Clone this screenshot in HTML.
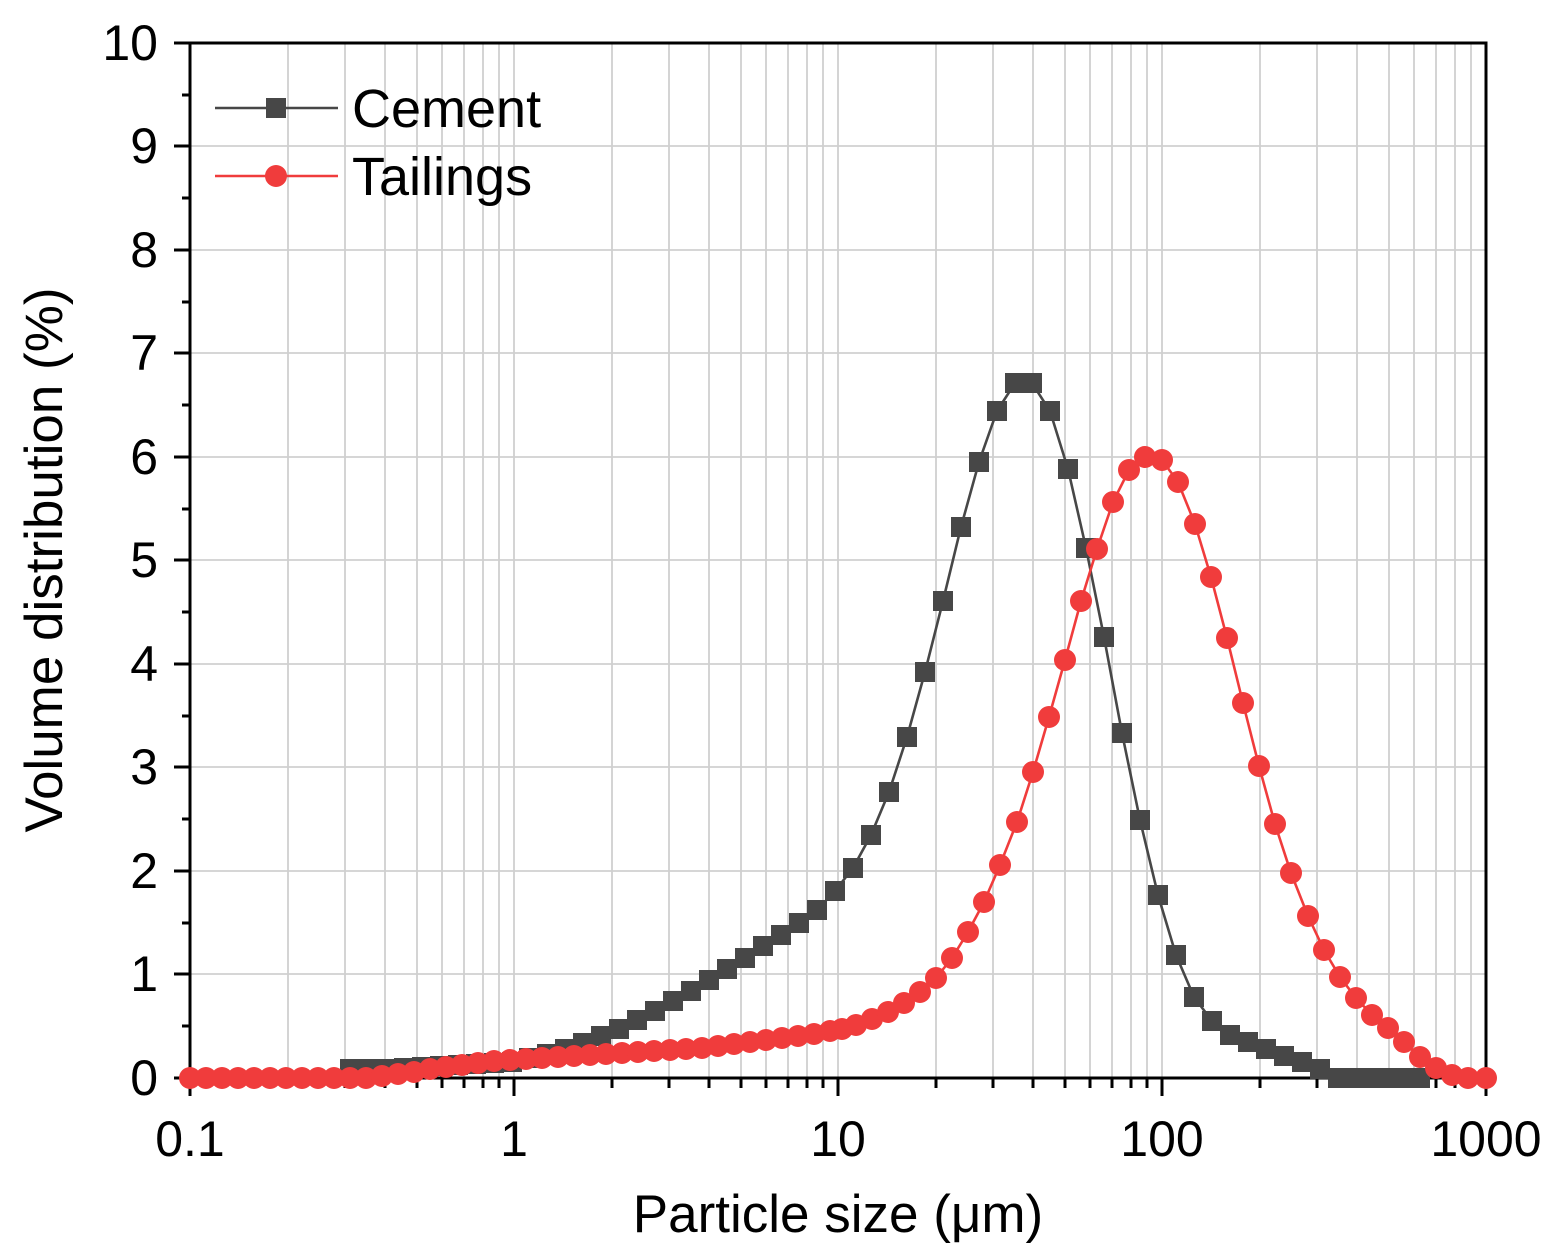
<!DOCTYPE html>
<html><head><meta charset="utf-8"><style>
html,body{margin:0;padding:0;background:#fff}
svg{display:block;font-family:"Liberation Sans",Arial,sans-serif}
</style></head><body>
<svg width="1561" height="1255" viewBox="0 0 1561 1255" xmlns="http://www.w3.org/2000/svg">
<defs>
<marker id="sq" markerUnits="userSpaceOnUse" markerWidth="22" markerHeight="22" refX="11" refY="11" overflow="visible"><rect x="1" y="1" width="20" height="20" fill="#474747"/></marker>
<marker id="ci" markerUnits="userSpaceOnUse" markerWidth="24" markerHeight="24" refX="12" refY="12" overflow="visible"><circle cx="12" cy="12" r="11" fill="#f03c3c"/></marker>
</defs>
<g stroke="#d0d0d0" stroke-width="1.8">
<path d="M190,1078H1486M190,974H1486M190,871H1486M190,767H1486M190,664H1486M190,560H1486M190,457H1486M190,353H1486M190,250H1486M190,146H1486"/>
<path d="M288,43V1078M345,43V1078M385,43V1078M417,43V1078M442,43V1078M464,43V1078M483,43V1078M499,43V1078M514,43V1078
M612,43V1078M669,43V1078M709,43V1078M741,43V1078M766,43V1078M788,43V1078M807,43V1078M823,43V1078M838,43V1078
M936,43V1078M993,43V1078M1033,43V1078M1065,43V1078M1090,43V1078M1112,43V1078M1131,43V1078M1147,43V1078M1162,43V1078
M1260,43V1078M1317,43V1078M1357,43V1078M1389,43V1078M1414,43V1078M1436,43V1078M1455,43V1078M1471,43V1078"/>
</g>
<g fill="none" stroke="#000" stroke-width="3">
<rect x="190" y="43" width="1296" height="1035"/>
<path d="M190,1078h-16M190,974h-16M190,871h-16M190,767h-16M190,664h-16M190,560h-16M190,457h-16M190,353h-16M190,250h-16M190,146h-16M190,43h-16
M190,1026h-8M190,923h-8M190,819h-8M190,716h-8M190,612h-8M190,509h-8M190,405h-8M190,302h-8M190,198h-8M190,95h-8"/>
<path d="M190,1078v18M514,1078v18M838,1078v18M1162,1078v18M1486,1078v18
M288,1078v10M345,1078v10M385,1078v10M417,1078v10M442,1078v10M464,1078v10M483,1078v10M499,1078v10
M612,1078v10M669,1078v10M709,1078v10M741,1078v10M766,1078v10M788,1078v10M807,1078v10M823,1078v10
M936,1078v10M993,1078v10M1033,1078v10M1065,1078v10M1090,1078v10M1112,1078v10M1131,1078v10M1147,1078v10
M1260,1078v10M1317,1078v10M1357,1078v10M1389,1078v10M1414,1078v10M1436,1078v10M1455,1078v10M1471,1078v10"/>
</g>
<polyline fill="none" stroke="#474747" stroke-width="2.6" marker-start="url(#sq)" marker-mid="url(#sq)" marker-end="url(#sq)"
points="350,1069 368,1069 386,1069 404,1068 422,1067 440,1066 458,1065 476,1064 494,1063 512,1062 529,1058 547,1054 565,1049 583,1043 601,1036 619,1029 637,1020 655,1011 673,1001 691,991 709,980 727,969 745,958 763,946 781,935 799,923 817,910 835,891 853,868 871,835 889,792 907,737 925,672 943,601 961,527 979,462 997,411 1015,383 1032,383 1050,411 1068,469 1086,548 1104,637 1122,733 1140,820 1158,895 1176,955 1194,997 1212,1021 1230,1035 1248,1042 1266,1049 1284,1056 1302,1062 1320,1069 1338,1078 1356,1078 1374,1078 1392,1078 1410,1078 1420,1078"/>
<polyline fill="none" stroke="#f03c3c" stroke-width="2.6" marker-start="url(#ci)" marker-mid="url(#ci)" marker-end="url(#ci)"
points="190,1078 206,1078 222,1078 238,1078 254,1078 270,1078 286,1078 302,1078 318,1078 334,1078 350,1078 366,1078 382,1076 398,1074 414,1072 430,1069 446,1067 462,1065 478,1063 494,1061 510,1060 526,1059 542,1058 558,1057 574,1056 590,1055 606,1054 622,1053 638,1052 654,1051 670,1050 686,1049 702,1048 718,1046 734,1044 750,1042 766,1040 782,1038 798,1036 814,1034 830,1031 842,1029 856,1025 872,1019 888,1012 904,1003 920,992 936,978 952,958 968,932 984,902 1000,865 1017,822 1033,772 1049,717 1065,660 1081,601 1097,549 1113,502 1129,470 1145,457 1162,460 1178,482 1195,524 1211,577 1227,638 1243,703 1259,766 1275,824 1291,873 1308,916 1324,950 1340,977 1356,998 1372,1015 1388,1028 1404,1042 1420,1057 1436,1068 1452,1075 1468,1078 1486,1078"/>
<g font-size="50" fill="#000" text-anchor="end">
<text x="158" y="1095">0</text><text x="158" y="991">1</text><text x="158" y="888">2</text><text x="158" y="784">3</text><text x="158" y="681">4</text><text x="158" y="577">5</text><text x="158" y="474">6</text><text x="158" y="370">7</text><text x="158" y="267">8</text><text x="158" y="163">9</text><text x="158" y="60">10</text>
</g>
<g font-size="50" fill="#000" text-anchor="middle">
<text x="190" y="1156">0.1</text><text x="514" y="1156">1</text><text x="838" y="1156">10</text><text x="1162" y="1156">100</text><text x="1486" y="1156">1000</text>
<text x="838" y="1232" font-size="53">Particle size (μm)</text>
<text transform="translate(62,560) rotate(-90)" font-size="53">Volume distribution (%)</text>
</g>
<line x1="215" y1="108" x2="338" y2="108" stroke="#474747" stroke-width="2.6"/>
<rect x="266" y="98" width="20" height="20" fill="#474747"/>
<line x1="215" y1="176" x2="338" y2="176" stroke="#f03c3c" stroke-width="2.6"/>
<circle cx="276" cy="176" r="11" fill="#f03c3c"/>
<g font-size="54" fill="#000"><text x="352" y="127">Cement</text><text x="352" y="195">Tailings</text></g>
</svg>
</body></html>
